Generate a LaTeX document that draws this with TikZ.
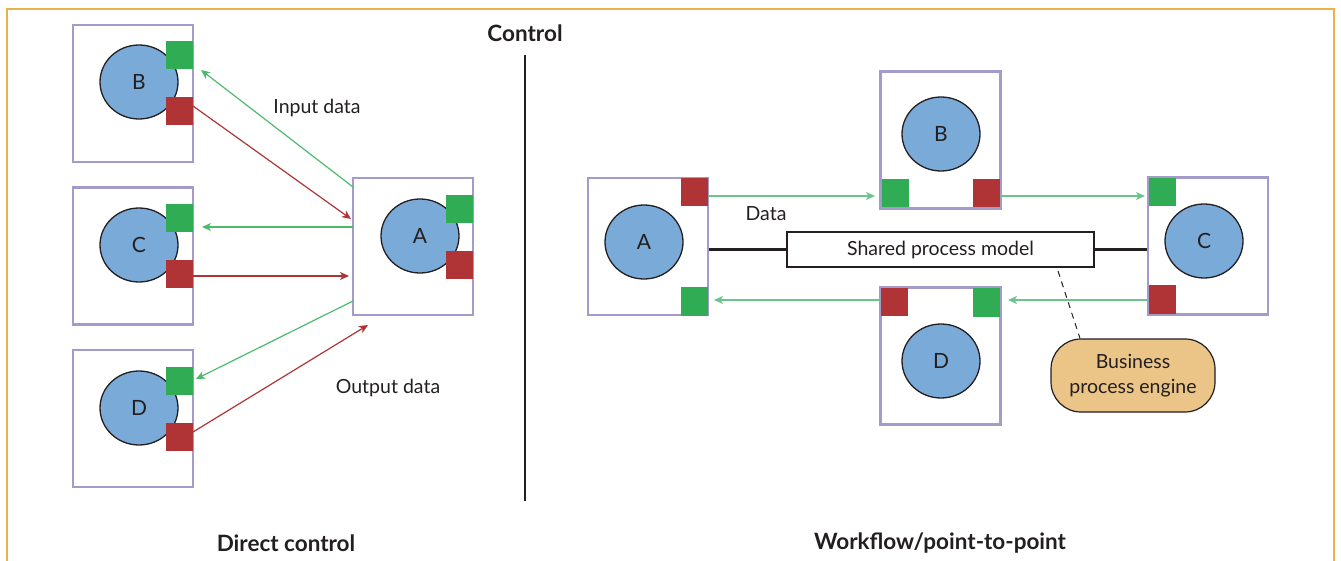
\documentclass[tikz,border=0pt]{standalone}
\usepackage{fontspec}
\setmainfont{Lato}
\usetikzlibrary{arrows.meta,shapes.geometric}
\definecolor{frameC}{HTML}{E8B44A}
\definecolor{boxC}{HTML}{A59BCB}
\definecolor{blueC}{HTML}{7AAAD8}
\definecolor{greenC}{HTML}{30AC55}
\definecolor{redC}{HTML}{B03436}
\definecolor{garrC}{HTML}{4DBA6E}
\definecolor{garrR}{HTML}{6CC48A}
\definecolor{txtC}{HTML}{231F20}
\definecolor{engC}{HTML}{EBC587}
\tikzset{
  pbox/.style={draw=boxC,line width=2.4pt,minimum width=120pt,minimum height=137pt,inner sep=0pt},
  proc/.style={ellipse,draw=txtC,fill=blueC,line width=1.3pt,minimum width=78pt,minimum height=74pt,inner sep=0pt,font=\fontsize{21}{23}\selectfont,text=txtC},
  gsq/.style={fill=greenC,minimum width=27pt,minimum height=28pt,inner sep=0pt},
  rsq/.style={fill=redC,minimum width=27pt,minimum height=28pt,inner sep=0pt},
  garr/.style={draw=garrC,line width=1.2pt,-{Stealth[length=9pt,width=8pt,inset=2.5pt]}},
  garrr/.style={draw=garrR,line width=1.5pt,-{Stealth[length=9pt,width=8pt,inset=2.5pt]}},
  rarr/.style={draw=redC,line width=1.2pt,-{Stealth[length=9pt,width=8pt,inset=2.5pt]}},
  lbl/.style={font=\fontsize{19.5}{22}\selectfont,text=txtC,inner sep=0pt},
  ttl/.style={font=\fontsize{22.5}{25}\selectfont\bfseries,text=txtC,inner sep=0pt},
}
\begin{document}
\begin{tikzpicture}[x=1pt,y=-1pt]
\useasboundingbox (0,0) rectangle (1341,561);
% frame
\draw[frameC,line width=1.2pt] (7,570) -- (7,9) -- (1334,9) -- (1334,570);
% titles
\node[ttl] (tCtrl) at (525,33) {Control};
\node[ttl] (tDirect) at (286,543) {Direct control};
\node[ttl] (tWork) at (940,543) {Workflow/point-to-point};
\coordinate (vTop) at (525,55);
\coordinate (vBot) at (525,501);
\draw[txtC,line width=2.8pt] (vTop) -- (vBot);

% ---------- left panel ----------
\node[pbox] (LB) at (133,93.5) {};
\node[proc] (LBc) at (139,82) {B};
\node[gsq] (LBg) at (179.5,55) {};
\node[rsq] (LBr) at (179.5,111) {};

\node[pbox] (LC) at (133,256) {};
\node[proc] (LCc) at (139,245) {C};
\node[gsq] (LCg) at (179.5,218) {};
\node[rsq] (LCr) at (179.5,274) {};

\node[pbox] (LD) at (133,418.5) {};
\node[proc] (LDc) at (139,408) {D};
\node[gsq] (LDg) at (179.5,381) {};
\node[rsq] (LDr) at (179.5,437) {};

\node[pbox] (LA) at (413,246.5) {};
\node[proc] (LAc) at (420,236) {A};
\node[gsq] (LAg) at (459.5,209) {};
\node[rsq] (LAr) at (459.5,265) {};

\coordinate (a1s) at (353,187);  \coordinate (a1e) at (201,70);
\coordinate (a2s) at (193,106);  \coordinate (a2e) at (351,219);
\coordinate (a3s) at (353,227);  \coordinate (a3e) at (202,227);
\coordinate (a4s) at (193,276);  \coordinate (a4e) at (349,276);
\coordinate (a5s) at (353,301);  \coordinate (a5e) at (196,379);
\coordinate (a6s) at (193,432);  \coordinate (a6e) at (368,325);
\draw[garr] (a1s) -- (a1e);
\draw[rarr] (a2s) -- (a2e);
\draw[garr] (a3s) -- (a3e);
\draw[rarr] (a4s) -- (a4e);
\draw[garr] (a5s) -- (a5e);
\draw[rarr] (a6s) -- (a6e);
\node[lbl] (lIn) at (317,108) {Input data};
\node[lbl] (lOut) at (388,388) {Output data};

% ---------- right panel ----------
\node[pbox] (RA) at (648,246.5) {};
\node[proc] (RAc) at (644,242) {A};
\node[rsq] (RAr) at (694.5,192.5) {};
\node[gsq] (RAg) at (694.5,301.5) {};

\node[pbox] (RB) at (940.5,140) {};
\node[proc] (RBc) at (941,134) {B};
\node[gsq] (RBg) at (895,193.5) {};
\node[rsq] (RBr) at (986.5,193.5) {};

\node[pbox] (RD) at (940.5,356) {};
\node[proc] (RDc) at (941,361) {D};
\node[rsq] (RDr) at (894.5,302) {};
\node[gsq] (RDg) at (986,302.5) {};

\node[pbox] (RC) at (1208,246) {};
\node[proc] (RCc) at (1204,241) {C};
\node[gsq] (RCg) at (1162,192.5) {};
\node[rsq] (RCr) at (1162.5,299.5) {};

\node[draw=txtC,line width=1.2pt,fill=white,minimum width=307pt,minimum height=35pt,inner sep=0pt,font=\fontsize{19.5}{22}\selectfont,text=txtC] (SPM) at (940.5,249.5) {Shared process model};
\draw[txtC,line width=2.6pt] (RA.east |- SPM.west) -- (SPM.west);
\draw[txtC,line width=2.6pt] (SPM.east) -- (RC.west |- SPM.east);

\node[draw=txtC,line width=1.2pt,fill=engC,rounded corners=30pt,minimum width=164pt,minimum height=73pt,inner sep=0pt,align=center,font=\fontsize{19.5}{25}\selectfont,text=txtC] (BPE) at (1133,375.5) {Business\\process engine};
\coordinate (dTop) at (1058,271);
\draw[txtC,line width=1pt,dash pattern=on 6pt off 5pt] (dTop) -- (BPE.north west -| 1080,0);

\coordinate (r1s) at (708,196);  \coordinate (r1e) at (875,196);
\coordinate (r2s) at (1000,196); \coordinate (r2e) at (1145,196);
\coordinate (r3s) at (1148,300); \coordinate (r3e) at (1008,300);
\coordinate (r4s) at (881,300);  \coordinate (r4e) at (714,300);
\draw[garrr] (r1s) -- (r1e);
\draw[garrr] (r2s) -- (r2e);
\draw[garrr] (r3s) -- (r3e);
\draw[garrr] (r4s) -- (r4e);
\node[lbl] (lData) at (766,214) {Data};
\end{tikzpicture}
\end{document}
